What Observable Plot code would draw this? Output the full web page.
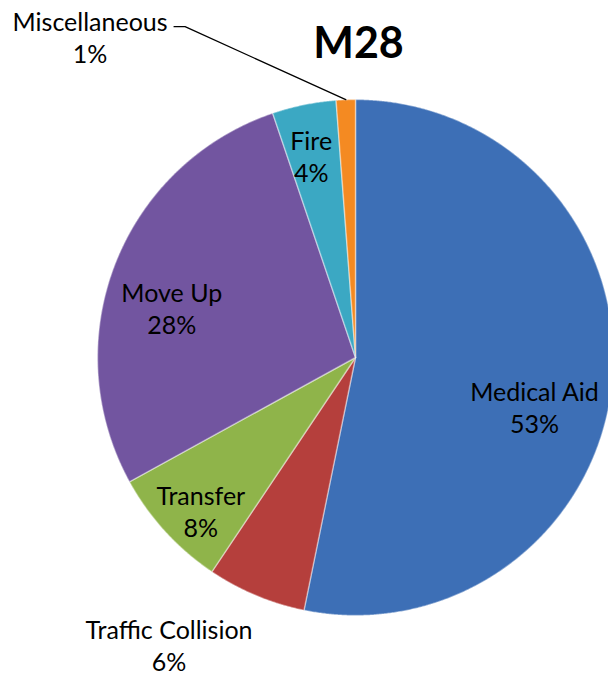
<!DOCTYPE html>
<html><head><meta charset="utf-8">
<script src="https://cdn.jsdelivr.net/npm/d3@7"></script>
<script src="https://cdn.jsdelivr.net/npm/@observablehq/plot@0.6"></script>
<style>html,body{margin:0;padding:0;background:#fff}</style>
</head><body><div id="chart"></div>
<script>
// ---- data ----
const title = "M28";
const categories = ["Medical Aid", "Traffic Collision", "Transfer", "Move Up", "Fire", "Miscellaneous"];
const values = [53.2, 6.2, 7.6, 27.8, 4.0, 1.2];
const colors = ["#3D6FB6", "#B53F3C", "#8FB44A", "#7255A0", "#3BA8C3", "#F48A22"];

// ---- layout (label placement: angle clockwise from 12 o'clock, radius as fraction of pie radius) ----
const labelAngle = [105.5, 213.0, 225.2, 285.2, 347.6, 320.4];
const labelRadius = [0.72, 1.327, 0.845, 0.738, 0.80, 1.614];
const W = 608, H = 675, R = 258, CX = 355, CY = 357;
const FONT = "Lato, 'Open Sans', sans-serif";

const total = d3.sum(values);
const pie = d3.pie().sort(null).value(d => d.value)(categories.map((c, i) => ({cat: c, value: values[i]})));

const pts = [];
for (const a of pie) {
  const cat = a.data.cat;
  pts.push({cat, x: 0, y: 0});
  const n = Math.max(2, Math.ceil((a.endAngle - a.startAngle) / 0.005));
  for (let k = 0; k <= n; k++) {
    const t = a.startAngle + (a.endAngle - a.startAngle) * k / n;
    pts.push({cat, x: Math.sin(t), y: -Math.cos(t)});
  }
}

const rad = d => d * Math.PI / 180;
const labels = categories.map((c, i) => ({
  cat: c,
  text: c + "\n" + Math.round(values[i] / total * 100) + "%",
  x: Math.sin(rad(labelAngle[i])) * labelRadius[i],
  y: -Math.cos(rad(labelAngle[i])) * labelRadius[i]
}));

// leader line for Miscellaneous: from label's right side to the slice's outer mid point
const mi = categories.indexOf("Miscellaneous");
const ma = pie[mi];
const mid = (ma.startAngle + ma.endAngle) / 2;
const lbl = labels[mi];
const leader = [
  {x: lbl.x + 84 / R, y: lbl.y - 10 / R},
  {x: lbl.x + 95 / R, y: lbl.y - 10 / R},
  {x: Math.sin(mid), y: -Math.cos(mid)}
];

const chart = Plot.plot({
  width: W, height: H,
  margin: 0,
  x: {domain: [-CX / R, (W - CX) / R], range: [0, W], axis: null},
  y: {domain: [-CY / R, (H - CY) / R], range: [0, H], axis: null},
  color: {domain: categories, range: colors},
  marks: [
    Plot.line(pts, {x: "x", y: "y", z: "cat", fill: "cat", curve: "linear-closed",
      stroke: "white", strokeOpacity: 0.4, strokeWidth: 1.5}),
    Plot.line(leader, {x: "x", y: "y", stroke: "black", strokeWidth: 1.3}),
    Plot.text(labels, {x: "x", y: "y", text: "text", fontSize: 25, lineHeight: 1.28,
      fontFamily: FONT, fill: "black"}),
    Plot.text([title], {x: () => 0, frameAnchor: "top", dy: 27, dx: 3, text: d => d,
      fontSize: 43, fontWeight: "bold", fontFamily: FONT, fill: "black"})
  ]
});
document.getElementById("chart").append(chart);
</script>
</body></html>
